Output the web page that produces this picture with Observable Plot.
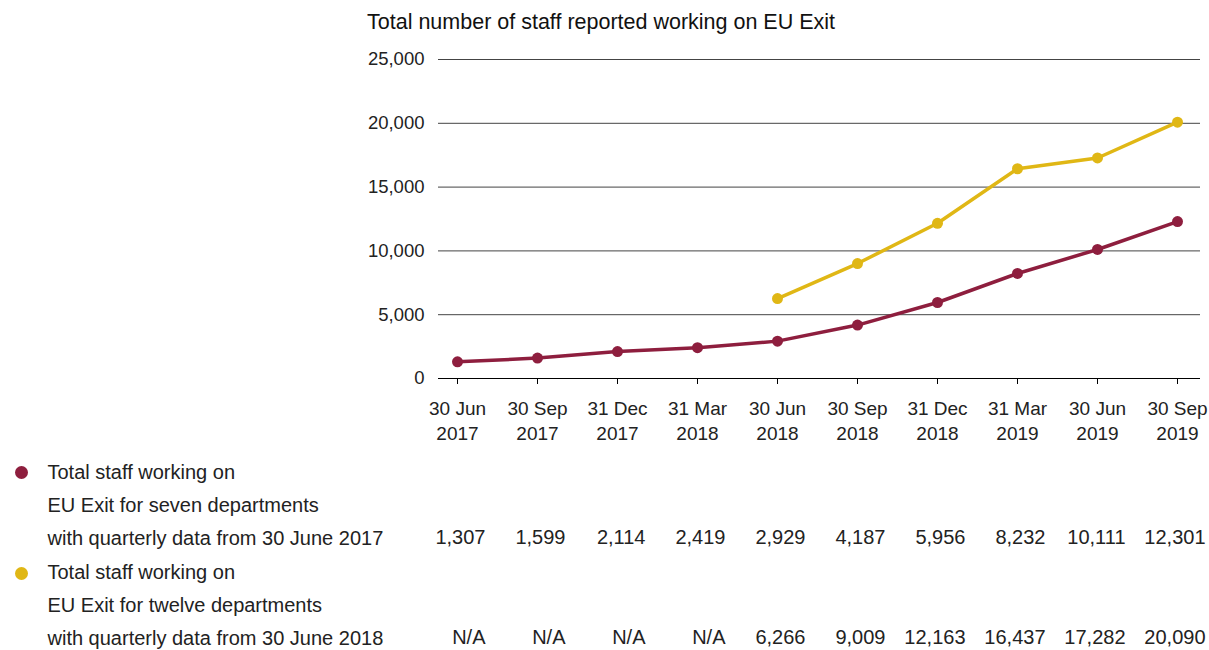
<!DOCTYPE html>
<html><head><meta charset="utf-8">
<script src="https://cdn.jsdelivr.net/npm/d3@7"></script>
<script src="https://cdn.jsdelivr.net/npm/@observablehq/plot@0.6"></script>
<style>
body{margin:0;background:#fff;font-family:"Liberation Sans",Arial,sans-serif;}
#title{height:44px;box-sizing:border-box;padding:10px 0 0 367px;font-size:21.5px;line-height:24px;color:#111;white-space:nowrap;}
</style></head><body>
<div id="title">Total number of staff reported working on EU Exit</div>
<div id="chart"></div>
<script>
const quarters = ["30 Jun 2017","30 Sep 2017","31 Dec 2017","31 Mar 2018","30 Jun 2018","30 Sep 2018","31 Dec 2018","31 Mar 2019","30 Jun 2019","30 Sep 2019"];
const sevenDepts = [1307,1599,2114,2419,2929,4187,5956,8232,10111,12301];
const twelveDepts = [null,null,null,null,6266,9009,12163,16437,17282,20090];
const seriesLabels = [
  "Total staff working on\nEU Exit for seven departments\nwith quarterly data from 30 June 2017",
  "Total staff working on\nEU Exit for twelve departments\nwith quarterly data from 30 June 2018"
];
const seriesColors = ["#8e1e3e", "#e0b715"];
const yTicks = [0, 5000, 10000, 15000, 20000, 25000];

const fmt = d3.format(",");
const rows1 = quarters.map((q, i) => ({q, v: sevenDepts[i]}));
const rows2 = quarters.map((q, i) => ({q, v: twelveDepts[i]}));
const pts2 = rows2.filter(d => d.v != null);

const chart = Plot.plot({
  width: 1209,
  height: 606,
  marginLeft: 438,
  marginRight: 9,
  marginTop: 15,
  marginBottom: 272,
  style: {fontFamily: '"Liberation Sans", Arial, sans-serif', fontSize: "19px", color: "#222"},
  x: {type: "point", domain: quarters, padding: 0},
  insetLeft: 17,
  insetRight: 21,
  y: {domain: [0, 25000]},
  marks: [
    Plot.ruleY(yTicks.filter(d => d > 0), {stroke: "#444", strokeWidth: 1}),
    Plot.ruleY([0], {stroke: "#000", strokeWidth: 1}),
    Plot.axisY({ticks: yTicks, tickSize: 0, tickPadding: 14, tickFormat: fmt, fontSize: 18.5, label: null}),
    Plot.axisX({tickSize: 6, tickPadding: 13, stroke: "#000", fontSize: 19, lineHeight: 1.32,
      tickFormat: d => d.replace(/ (\d{4})$/, "\n$1"), label: null}),
    Plot.line(rows1, {x: "q", y: "v", stroke: seriesColors[0], strokeWidth: 3.5}),
    Plot.dot(rows1, {x: "q", y: "v", fill: seriesColors[0], r: 5.5}),
    Plot.line(pts2, {x: "q", y: "v", stroke: seriesColors[1], strokeWidth: 3.5}),
    Plot.dot(pts2, {x: "q", y: "v", fill: seriesColors[1], r: 5.5}),
    // data table
    Plot.text(rows1, {x: "q", text: d => d.v == null ? "N/A" : fmt(d.v), frameAnchor: "bottom", dy: 165, dx: 28, textAnchor: "end", fontSize: 20, fill: "#222"}),
    Plot.text(rows2, {x: "q", text: d => d.v == null ? "N/A" : fmt(d.v), frameAnchor: "bottom", dy: 265, dx: 28, textAnchor: "end", fontSize: 20, fill: "#222"}),
    // legend
    Plot.dot([seriesLabels[0]], {frameAnchor: "bottom-left", dx: -417, dy: 94, r: 6.5, fill: seriesColors[0]}),
    Plot.dot([seriesLabels[1]], {frameAnchor: "bottom-left", dx: -417, dy: 195, r: 6.5, fill: seriesColors[1]}),
    Plot.text([seriesLabels[0]], {text: d => d, frameAnchor: "bottom-left", dx: -391, dy: 123, textAnchor: "start", lineAnchor: "middle", lineHeight: 1.65, fontSize: 20, fill: "#222"}),
    Plot.text([seriesLabels[1]], {text: d => d, frameAnchor: "bottom-left", dx: -391, dy: 223, textAnchor: "start", lineAnchor: "middle", lineHeight: 1.65, fontSize: 20, fill: "#222"})
  ]
});
document.getElementById("chart").append(chart);
</script>
</body></html>
